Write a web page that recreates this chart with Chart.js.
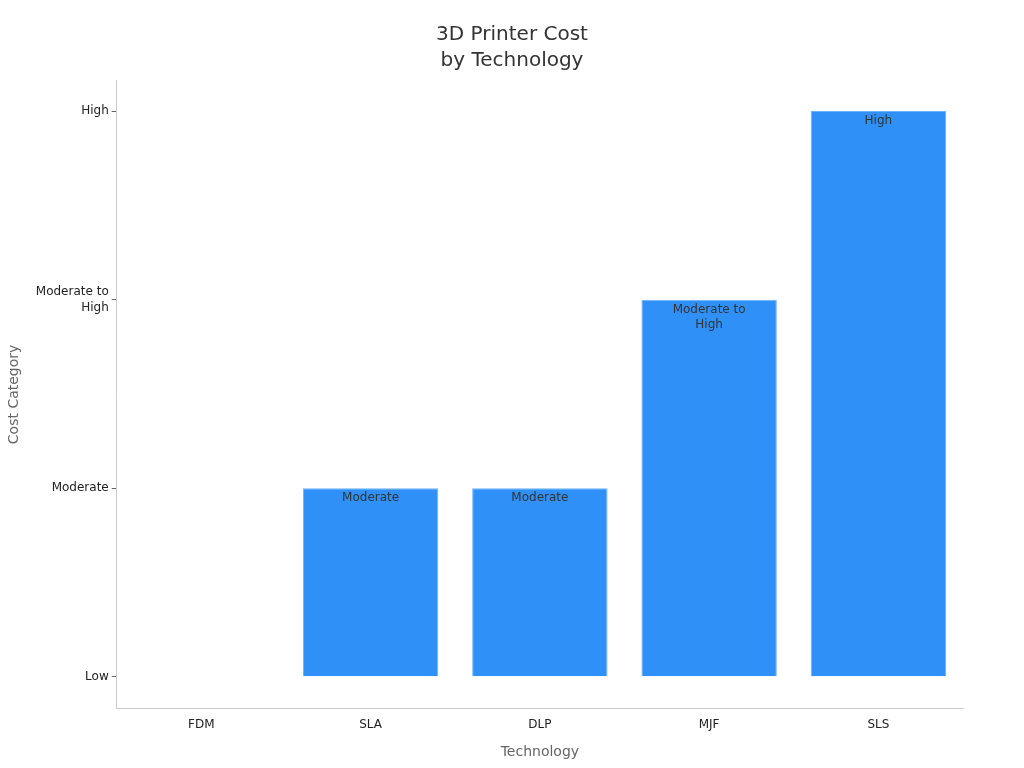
<!DOCTYPE html>
<html>
<head>
<meta charset="utf-8">
<script src="https://cdn.jsdelivr.net/npm/chart.js@4"></script>
<style>
html,body{margin:0;padding:0;background:#fff;}
#wrap{width:1024px;height:768px;}
</style>
</head>
<body>
<div id="wrap"><canvas id="c" width="1024" height="768"></canvas></div>
<script>
const categories = ["FDM", "SLA", "DLP", "MJF", "SLS"];
const costValues = [0, 1, 1, 2, 3];
const tickValues = [0, 1, 2, 3];
const tickLabels = ["Low", "Moderate", ["Moderate to", "High"], "High"];
const barLabels = ["", "Moderate", "Moderate", ["Moderate to", "High"], "High"];

const labelPlugin = {
  id: 'barLabels',
  afterDatasetsDraw(chart) {
    const ctx = chart.ctx;
    const meta = chart.getDatasetMeta(0);
    ctx.save();
    ctx.font = '12px "DejaVu Sans"';
    ctx.fillStyle = '#333333';
    ctx.textAlign = 'center';
    ctx.textBaseline = 'middle';
    meta.data.forEach((bar, i) => {
      const lab = barLabels[i];
      if (!lab || costValues[i] <= 0) return;
      const lines = Array.isArray(lab) ? lab : [lab];
      lines.forEach((ln, k) => {
        ctx.fillText(ln, bar.x, bar.y + 10 + k * 15);
      });
    });
    ctx.restore();
  }
};

new Chart(document.getElementById('c'), {
  type: 'bar',
  data: {
    labels: categories,
    datasets: [{
      data: costValues,
      backgroundColor: '#2F91F8',
      borderColor: '#6DB2FA',
      borderWidth: 1,
      barPercentage: 0.8,
      categoryPercentage: 1.0
    }]
  },
  options: {
    responsive: false,
    animation: false,
    devicePixelRatio: 1,
    layout: { padding: { left: 3, right: 3, top: 22, bottom: 7 } },
    plugins: {
      legend: { display: false },
      tooltip: { enabled: false },
      title: {
        display: true,
        text: ['3D Printer Cost', 'by Technology'],
        color: '#333333',
        font: { family: 'DejaVu Sans', size: 20, weight: 'normal', lineHeight: 1.3 },
        padding: { top: 0, bottom: 6 }
      }
    },
    scales: {
      x: {
        grid: { display: false, drawTicks: true, tickLength: 5, color: '#999' },
        border: { display: true, color: '#cccccc' },
        ticks: { color: '#222', font: { family: 'DejaVu Sans', size: 12 }, padding: 4 },
        title: {
          display: true, text: 'Technology', color: '#666666',
          font: { family: 'DejaVu Sans', size: 14 }, padding: { top: 8, bottom: 0 }
        }
      },
      y: {
        min: -0.17,
        max: 3.165,
        afterBuildTicks(scale) { scale.ticks = tickValues.map(v => ({ value: v })); },
        grid: { display: true, drawOnChartArea: false, drawTicks: true, tickLength: 5, color: '#666' },
        border: { display: true, color: '#cccccc' },
        ticks: {
          color: '#222', font: { family: 'DejaVu Sans', size: 12, lineHeight: 1.35 }, padding: 3,
          callback(v) { const i = tickValues.indexOf(v); return i >= 0 ? tickLabels[i] : ''; }
        },
        title: {
          display: true, text: 'Cost Category', color: '#666666',
          font: { family: 'DejaVu Sans', size: 14 }, padding: { top: 3, bottom: 10 }
        }
      },
      yRight: {
        position: 'right',
        display: true,
        grid: { display: false },
        border: { display: false },
        ticks: { display: false },
        afterFit(scale) { scale.width = 58; }
      }
    }
  },
  plugins: [labelPlugin]
});
</script>
</body>
</html>
